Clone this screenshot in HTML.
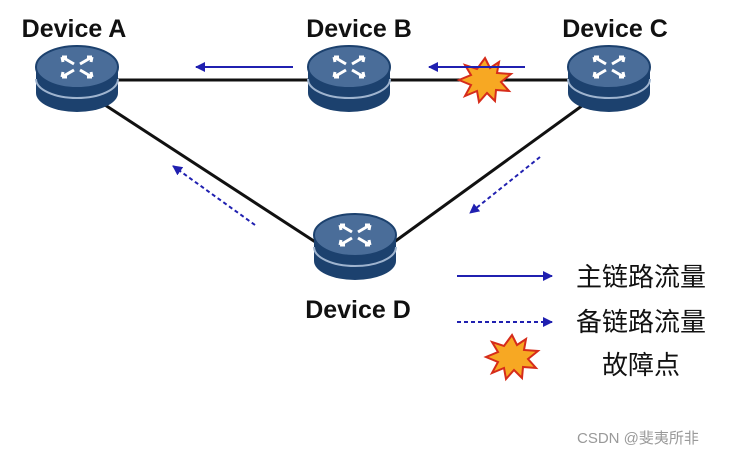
<!DOCTYPE html>
<html><head><style>body{margin:0;background:#fff}svg{display:block}</style></head><body>
<svg width="730" height="456" viewBox="0 0 730 456" xmlns="http://www.w3.org/2000/svg">
<defs>
<marker id="ah" viewBox="0 0 10 10" refX="9" refY="5" markerWidth="5" markerHeight="5" orient="auto"><path d="M0,0L10,5L0,10z" fill="#2020b0"/></marker>
<g id="rt">
<path d="M-41,0 V26 A41,19 0 0 0 41,26 V0z" fill="#1c416e"/>
<path d="M-41,12 A41,19 0 0 0 41,12" fill="none" stroke="#9fb4cf" stroke-width="2"/>
<ellipse cx="0" cy="0" rx="41" ry="21" fill="#4a6d99" stroke="#1c416e" stroke-width="2"/>
<g stroke="#fff" stroke-width="3" fill="none">
<path d="M-3,-3 L-15,-10 M-15,-10 l5,0 M-15,-10 l1,5"/>
<path d="M3,-3 L15,-10 M15,-10 l-5,0 M15,-10 l-1,5"/>
<path d="M-3,3 L-15,10 M-15,10 l5,0 M-15,10 l1,-5"/>
<path d="M3,3 L15,10 M15,10 l-5,0 M15,10 l-1,-5"/>
</g>
</g>
<g id="st"><polygon points="0,-22 5,-12 14,-18 12,-7 26,-6 16,2 24,11 11,10 10,21 2,13 -6,22 -8,11 -20,16 -14,5 -26,0 -14,-5 -20,-15 -8,-11" fill="#f7a823" stroke="#d62c1a" stroke-width="2"/></g>
</defs>
<g stroke="#111" stroke-width="3">
<line x1="77" y1="80" x2="609" y2="80"/>
<line x1="105" y1="105" x2="320" y2="245"/>
<line x1="590" y1="100" x2="390" y2="245"/>
</g>
<use href="#rt" x="77" y="67"/>
<use href="#rt" x="349" y="67"/>
<use href="#rt" x="609" y="67"/>
<use href="#rt" x="355" y="235"/>
<use href="#st" x="485" y="80"/>
<g stroke="#2020b0" stroke-width="2" fill="none" marker-end="url(#ah)">
<line x1="293" y1="67" x2="196" y2="67"/>
<line x1="525" y1="67" x2="429" y2="67"/>
<line x1="255" y1="225" x2="173" y2="166" stroke-dasharray="4,3"/>
<line x1="540" y1="157" x2="470" y2="213" stroke-dasharray="4,3"/>
<line x1="457" y1="276" x2="552" y2="276"/>
<line x1="457" y1="322" x2="552" y2="322" stroke-dasharray="4,3"/>
</g>
<use href="#st" x="512" y="357"/>
<g font-family="Liberation Sans, sans-serif" font-weight="bold" font-size="25" fill="#111" text-anchor="middle">
<text x="74" y="37">Device A</text>
<text x="359" y="37">Device B</text>
<text x="615" y="37">Device C</text>
<text x="358" y="318">Device D</text>
</g>
<g font-family="Liberation Sans, Noto Sans CJK SC, sans-serif" font-size="26" fill="#111">
<text x="576" y="286">主链路流量</text>
<text x="576" y="331">备链路流量</text>
<text x="602" y="374">故障点</text>
</g>
<text x="577" y="443" font-family="Liberation Sans, Noto Sans CJK SC, sans-serif" font-size="15" fill="#999">CSDN @斐夷所非</text>
</svg>
</body></html>
